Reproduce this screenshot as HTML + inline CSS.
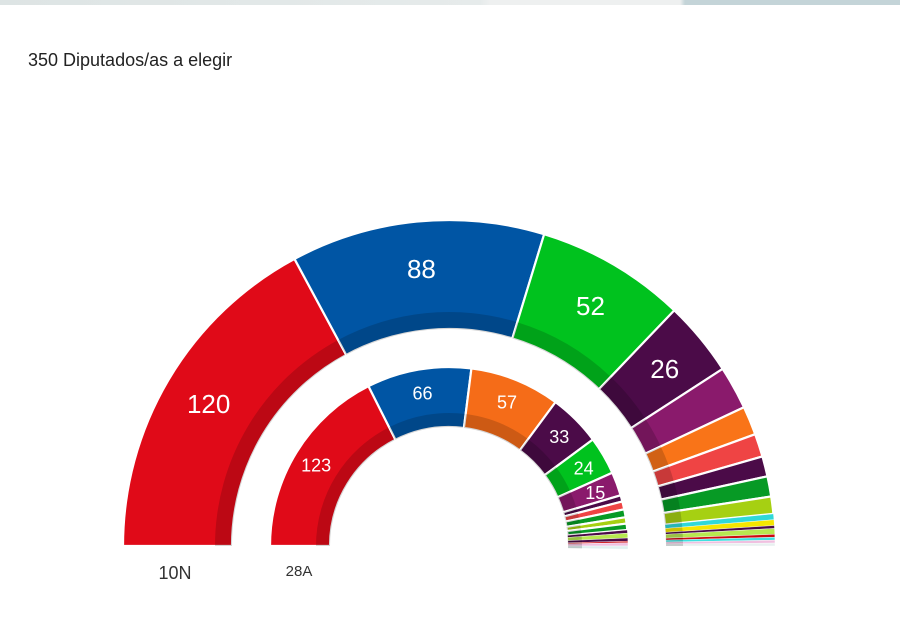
<!DOCTYPE html>
<html><head><meta charset="utf-8"><style>
body{margin:0;background:#fff;width:900px;height:617px;overflow:hidden;font-family:"Liberation Sans",sans-serif}
.top{position:absolute;left:0;top:0;width:900px;height:5px;background:linear-gradient(90deg,#dde4e4 0,#e6ebeb 480px,#eef0f0 490px,#eef0f0 680px,#c4d4d8 685px)}
.t{position:absolute;left:28px;top:50px;font-size:18px;color:#222}
</style></head><body>
<div class="top"></div>
<div class="t">350 Diputados/as a elegir</div>
<svg id="s" width="900" height="617" style="position:absolute;left:0;top:0"></svg>
<script>
const cx=449,cy=546,NS="http://www.w3.org/2000/svg";
const svg=document.getElementById('s');
function pt(r,a){return [cx-r*Math.cos(a),cy-r*Math.sin(a)];}
function arc(r0,r1,a0,a1){const p=[pt(r1,a0),pt(r1,a1),pt(r0,a1),pt(r0,a0)];const l=(a1-a0)>Math.PI?1:0;
return `M${p[0]}A${r1},${r1} 0 ${l} 1 ${p[1]}L${p[2]}A${r0},${r0} 0 ${l} 0 ${p[3]}Z`;}
function el(t,at,txt){const e=document.createElementNS(NS,t);for(const k in at)e.setAttribute(k,at[k]);if(txt)e.textContent=txt;svg.appendChild(e);return e;}
function ring(r0,r1,band,data,fs){let acc=0;for(const [n,c,lab] of data){const a0=acc/350*Math.PI,a1=(acc+n)/350*Math.PI;acc+=n;
el('path',{d:arc(r0,r1,a0,a1),fill:c,stroke:'#fff','stroke-width':n>3?2.2:0.4});
el('path',{d:arc(r0,r0+band,a0,a1),fill:'#000','fill-opacity':0.16});
if(lab){const m=(a0+a1)/2,r=(r0+band+r1)/2;const [x,y]=pt(r,m);el('text',{x:x,y:y+fs*0.4,fill:'#fff','font-size':fs,'text-anchor':'middle','font-family':'Liberation Sans'},String(n));}}}
ring(217,326,17,[[120,'#e00a18',1],[88,'#0055a4',1],[52,'#00c21e',1],[26,'#4b0b48',1],[15,'#8a1a6c'],[10,'#f97418'],[8,'#ef4444'],[7,'#4b0b48'],[7,'#079a25'],[6,'#a6d012'],[2,'#30d8d8'],[2,'#f5e600'],[1,'#4b0b48'],[2,'#b8e850'],[1,'#cc0a10'],[1,'#40e0e0'],[1,'#f0c0e0'],[1,'#e8f0f0']],26);
ring(119,179,14,[[123,'#e00a18',1],[66,'#0055a4',1],[57,'#f56c18',1],[33,'#4b0b48',1],[24,'#00c21e',1],[15,'#8a1a6c',1],[4,'#4b0b48'],[5,'#ef4444'],[5,'#079a25'],[4,'#a6d012'],[4,'#079a25'],[2,'#4b0b48'],[3,'#b8e850'],[2,'#4b0b48'],[1,'#cc0a10'],[2,'#f0c0e0'],[2,'#e0f0f0']],18);
el('text',{x:175,y:579,'font-size':18,fill:'#333','text-anchor':'middle'},'10N');
el('text',{x:299,y:576,'font-size':15,fill:'#333','text-anchor':'middle'},'28A');
</script>
</body></html>
